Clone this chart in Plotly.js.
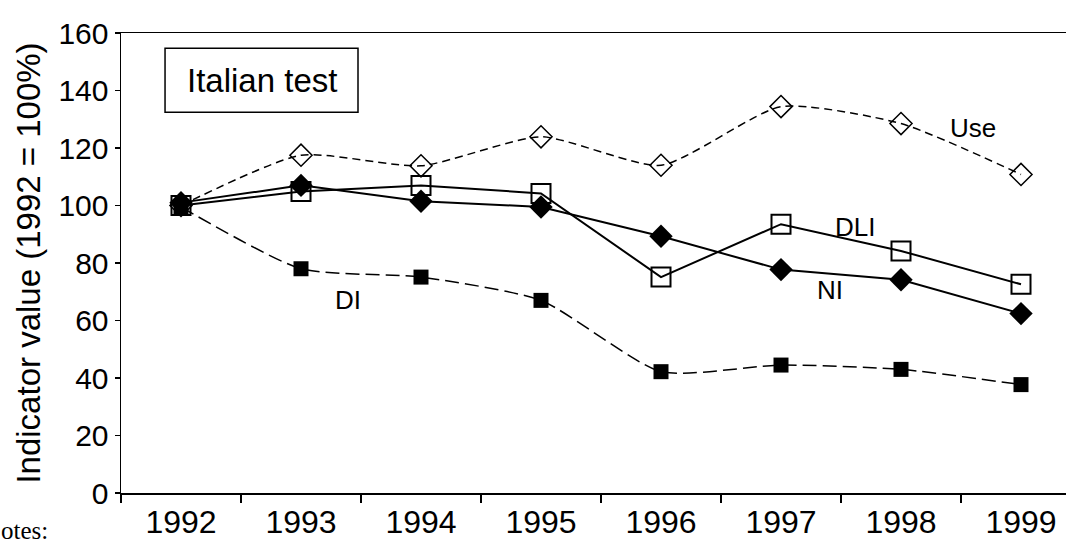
<!DOCTYPE html>
<html>
<head>
<meta charset="utf-8">
<script src="https://cdn.plot.ly/plotly-3.0.1.min.js"></script>
<style>
html,body{margin:0;padding:0;background:#fff;}
#chart{width:1066px;height:545px;}
</style>
</head>
<body>
<div id="chart"></div>
<script>
const years = ['1992','1993','1994','1995','1996','1997','1998','1999'];
const useVals = [100, 117.5, 113.8, 123.9, 114.0, 134.4, 128.5, 110.8];
const dliVals = [100, 104.9, 107.0, 104.2, 75.1, 93.5, 84.2, 72.6];
const niVals  = [101, 107.0, 101.5, 99.5, 89.3, 77.7, 74.2, 62.4];
const diVals  = [99.5, 78.0, 75.1, 67.0, 42.2, 44.5, 43.0, 37.7];
const tickVals = [0, 20, 40, 60, 80, 100, 120, 140, 160];

const FONT = 'Liberation Sans, Arial, sans-serif';

const traces = [
  {x: years, y: diVals, name: 'DI', mode: 'lines+markers',
   line: {color: '#000', width: 1.5, dash: '14px,6px', shape: 'spline', smoothing: 0.6},
   marker: {symbol: 'square', size: 15, color: '#000'}},
  {x: years, y: useVals, name: 'Use', mode: 'lines+markers',
   line: {color: '#000', width: 1.5, dash: '8px,5px', shape: 'spline', smoothing: 0.6},
   marker: {symbol: 'diamond-open', size: 17, color: '#000', line: {width: 1.5, color: '#000'}}},
  {x: years, y: niVals, name: 'NI', mode: 'lines+markers',
   line: {color: '#000', width: 2},
   marker: {symbol: 'diamond', size: 18, color: '#000'}},
  {x: years, y: dliVals, name: 'DLI', mode: 'lines+markers',
   line: {color: '#000', width: 2},
   marker: {symbol: 'square-open', size: 19, color: '#000', line: {width: 2, color: '#000'}}}
];

const layout = {
  width: 1066, height: 545,
  margin: {l: 121, r: 0, t: 33, b: 52},
  paper_bgcolor: '#fff', plot_bgcolor: '#fff',
  showlegend: false,
  font: {family: FONT, color: '#000'},
  xaxis: {
    type: 'category', range: [-0.5, 7.375],
    tickson: 'boundaries', ticks: 'outside', ticklen: 8, tickwidth: 1.5, tickcolor: '#000',
    showline: true, linecolor: '#000', linewidth: 1.5, mirror: true,
    showgrid: false, zeroline: false,
    tickfont: {family: FONT, size: 32, color: '#000'}
  },
  yaxis: {
    range: [0, 160], tickvals: tickVals, ticktext: tickVals.map(String),
    ticks: 'outside', ticklen: 5, tickwidth: 1.5, tickcolor: '#000',
    showline: true, linecolor: '#000', linewidth: 1.5,
    showgrid: false, zeroline: false,
    tickfont: {family: FONT, size: 30, color: '#000'},
    title: {text: 'Indicator value (1992 = 100%)', font: {family: FONT, size: 33, color: '#000'}, standoff: 8}
  },
  shapes: [
    {type: 'rect', xref: 'x', yref: 'y', x0: -0.133, x1: 1.475, y0: 132.4, y1: 154.7,
     line: {color: '#000', width: 1.5}, fillcolor: '#fff'}
  ],
  annotations: [
    {x: 0.675, y: 143.6, xref: 'x', yref: 'y', text: 'Italian test', showarrow: false,
     font: {family: FONT, size: 33, color: '#000'}},
    {x: 6.6, y: 126.9, xref: 'x', yref: 'y', text: 'Use', showarrow: false, font: {family: FONT, size: 26, color: '#000'}},
    {x: 5.62, y: 92.4, xref: 'x', yref: 'y', text: 'DLI', showarrow: false, font: {family: FONT, size: 26, color: '#000'}},
    {x: 5.41, y: 70.5, xref: 'x', yref: 'y', text: 'NI', showarrow: false, font: {family: FONT, size: 26, color: '#000'}},
    {x: 1.39, y: 67.0, xref: 'x', yref: 'y', text: 'DI', showarrow: false, font: {family: FONT, size: 26, color: '#000'}},
    {x: -0.128, y: -0.113, xref: 'paper', yref: 'paper', xanchor: 'left', yanchor: 'bottom',
     text: 'otes:', showarrow: false, borderpad: 0,
     font: {family: 'Liberation Serif, Times New Roman, serif', size: 25, color: '#000'}}
  ]
};

Plotly.newPlot('chart', traces, layout, {staticPlot: true, displayModeBar: false});
</script>
</body>
</html>
